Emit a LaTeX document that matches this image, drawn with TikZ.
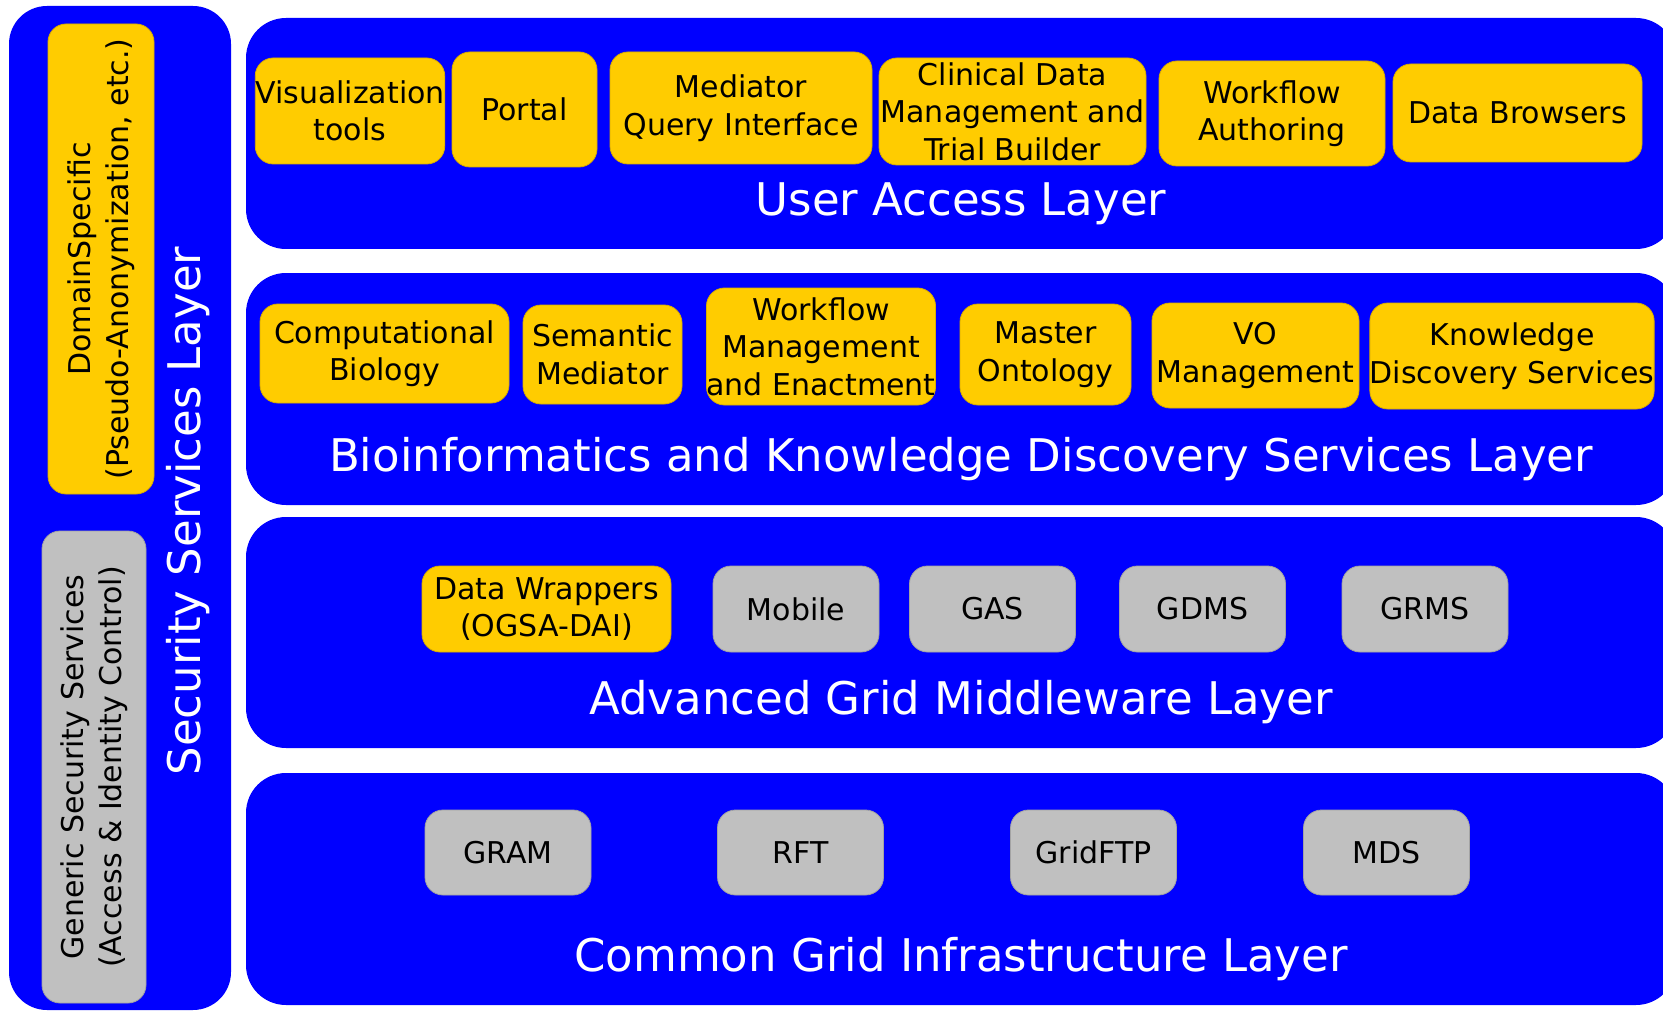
\documentclass[tikz,border=0pt]{standalone}
\usepackage{fontspec}
\setmainfont{DejaVu Sans}
\usetikzlibrary{positioning}
\definecolor{layerblue}{RGB}{0,0,255}
\definecolor{gold}{RGB}{255,204,0}
\definecolor{silver}{RGB}{192,192,192}
\tikzset{
  dims/.style 2 args={minimum width=#1pt,minimum height=#2pt},
  layer/.style={fill=layerblue,rounded corners=40pt,inner sep=0pt},
  unit/.style={fill=#1,draw=#1!85!black,line width=0.8pt,rounded corners=18pt,
    inner sep=0pt,align=center,font=\fontsize{30}{37.5}\selectfont},
  unit/.default=gold,
  title/.style={text=white,font=\fontsize{45}{54}\selectfont,anchor=base},
}
\begin{document}
\begin{tikzpicture}[x=1pt,y=-1pt]
  \useasboundingbox (0,0) rectangle (1663,1011);
  % security column
  \node[layer,rounded corners=38pt,dims={222}{1004}] (sec) at (120,508) {};
  \node[unit,rotate=90,dims={470}{106}] (dom) at (101,259) {DomainSpecific\\(Pseudo-Anonymization, etc.)};
  \node[unit=silver,rotate=90,dims={472}{104}] (gen) at (94,767) {Generic Security Services\\(Access \& Identity Control)};
  \node[title,anchor=center,rotate=90] (sect) at (188,511) {Security Services Layer};
  % layers
  \node[layer,dims={1430}{231}] (ual) at (961,133.5) {};
  \node[title] (ualt) at ([yshift=34pt]ual.south) {User Access Layer};
  \node[layer,dims={1430}{232}] (bio) at (961,389) {};
  \node[title] (biot) at ([yshift=34pt]bio.south) {Bioinformatics and Knowledge Discovery Services Layer};
  \node[layer,dims={1430}{231}] (agm) at (961,632.5) {};
  \node[title] (agmt) at ([yshift=34pt]agm.south) {Advanced Grid Middleware Layer};
  \node[layer,dims={1430}{232}] (cgi) at (961,889) {};
  \node[title] (cgit) at ([yshift=34pt]cgi.south) {Common Grid Infrastructure Layer};
  % user access
  \node[unit,dims={186}{106}] (vis) at (350,111) {Visualization\\tools};
  \node[unit,dims={145}{115}] (portal) at (524.5,109.5) {Portal};
  \node[unit,dims={262}{112}] (mqi) at (741,108) {Mediator\\Query Interface};
  \node[unit,dims={267}{107}] (clin) at (1012.5,111.5) {Clinical Data\\Management and\\Trial Builder};
  \node[unit,dims={226}{105}] (wfa) at (1272,113.5) {Workflow\\Authoring};
  \node[unit,dims={249}{98}] (browse) at (1517.5,113) {Data Browsers};
  % bioinformatics
  \node[unit,dims={249}{99}] (compbio) at (384.5,353.5) {Computational\\Biology};
  \node[unit,dims={159}{99}] (semmed) at (602.5,354.5) {Semantic\\Mediator};
  \node[unit,dims={228}{117}] (wfm) at (821,346.5) {Workflow\\Management\\and Enactment};
  \node[unit,dims={171}{101}] (onto) at (1045.5,354.5) {Master\\Ontology};
  \node[unit,dims={207}{105}] (vo) at (1255.5,355.5) {VO\\Management};
  \node[unit,dims={280}{106}] (kds) at (1512,356) {Knowledge\\Discovery Services};
  % middleware
  \node[unit,dims={249}{86}] (wrap) at (546.5,609) {Data Wrappers\\(OGSA-DAI)};
  \node[unit=silver,dims={166}{86}] (mobile) at (796,609) {Mobile};
  \node[unit=silver,dims={166}{86}] (gas) at (992.5,609) {GAS};
  \node[unit=silver,dims={166}{86}] (gdms) at (1202.5,609) {GDMS};
  \node[unit=silver,dims={166}{86}] (grms) at (1425,609) {GRMS};
  % infrastructure
  \node[unit=silver,dims={166}{85}] (gram) at (508,852.5) {GRAM};
  \node[unit=silver,dims={166}{85}] (rft) at (800.5,852.5) {RFT};
  \node[unit=silver,dims={166}{85}] (ftp) at (1093.5,852.5) {GridFTP};
  \node[unit=silver,dims={166}{85}] (mds) at (1386.5,852.5) {MDS};
\end{tikzpicture}
\end{document}
